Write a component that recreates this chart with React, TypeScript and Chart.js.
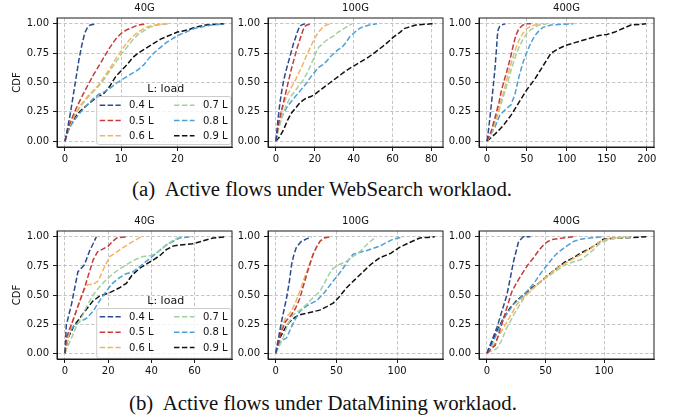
import React, { useEffect, useRef } from 'react';
import { Chart, registerables } from 'chart.js';

Chart.register(...registerables);

// ---------- DATA ----------
const LOADS = ['0.4 L', '0.5 L', '0.6 L', '0.7 L', '0.8 L', '0.9 L'];
const COLORS = ['#2a4b8d', '#c53a3a', '#f7b25f', '#a3d09f', '#4f9fd6', '#111111'];
const LEGEND_TITLE = 'L: load';
const PANEL_TITLES = ['40G', '100G', '400G'];
const Y_LABEL = 'CDF';
const Y_TICKS = [0, 0.25, 0.5, 0.75, 1.0];
const CAPTION_A = 'Active flows under WebSearch worklaod.';
const CAPTION_B = 'Active flows under DataMining worklaod.';

// WebSearch, 40G
const WS40_04 = [[0, 0], [0.5, 0.12], [1, 0.25], [1.5, 0.4], [2, 0.55], [2.5, 0.7], [3, 0.82], [3.5, 0.92], [4, 0.97], [4.5, 0.99], [5.5, 1.0]];
const WS40_05 = [[0, 0], [0.5, 0.1], [1, 0.17], [2, 0.28], [3, 0.38], [4, 0.47], [5, 0.56], [6, 0.64], [7, 0.72], [8, 0.8], [9, 0.87], [10, 0.92], [11, 0.95], [12, 0.97], [13, 0.99], [14.5, 1.0]];
const WS40_06 = [[0, 0], [0.5, 0.1], [1, 0.16], [2, 0.25], [3, 0.32], [4, 0.38], [5, 0.43], [6, 0.48], [7, 0.55], [8, 0.62], [9, 0.7], [10, 0.77], [11, 0.84], [12, 0.89], [13, 0.93], [14, 0.96], [15, 0.98], [16.5, 0.995], [18, 1.0]];
const WS40_07 = [[0, 0], [0.5, 0.09], [1, 0.15], [2, 0.24], [3, 0.31], [4, 0.37], [5, 0.42], [6, 0.47], [7, 0.53], [8, 0.6], [9, 0.67], [10, 0.74], [11, 0.8], [12, 0.86], [13, 0.91], [14, 0.94], [15, 0.97], [16.5, 0.99], [18.3, 1.0]];
const WS40_08 = [[0, 0], [0.5, 0.08], [1, 0.13], [2, 0.2], [3, 0.26], [4, 0.31], [5, 0.36], [6, 0.4], [7, 0.42], [8, 0.45], [9, 0.49], [10, 0.52], [11, 0.55], [12, 0.58], [13, 0.61], [14, 0.65], [15, 0.71], [16, 0.76], [17, 0.8], [18, 0.84], [19, 0.87], [20, 0.9], [21, 0.92], [22, 0.94], [23, 0.96], [24, 0.97], [25, 0.98], [26, 0.99], [28.3, 1.0]];
const WS40_09 = [[0, 0], [0.5, 0.08], [1, 0.14], [2, 0.22], [3, 0.27], [4, 0.31], [5, 0.35], [6, 0.38], [7, 0.41], [8, 0.47], [9, 0.55], [10, 0.6], [11, 0.65], [12, 0.71], [13, 0.75], [14, 0.78], [15, 0.81], [16, 0.84], [17, 0.87], [18, 0.89], [19, 0.91], [20, 0.93], [21, 0.94], [22, 0.95], [23, 0.97], [24, 0.98], [25, 0.99], [28.3, 1.0]];

// WebSearch, 100G
const WS100_04 = [[0, 0], [1, 0.18], [2, 0.32], [3, 0.43], [4, 0.52], [5, 0.59], [6, 0.65], [7, 0.71], [8, 0.77], [9, 0.83], [10, 0.88], [11, 0.93], [12, 0.97], [13, 0.99], [15, 1.0]];
const WS100_05 = [[0, 0], [1, 0.12], [2, 0.2], [3, 0.27], [4, 0.34], [5, 0.41], [6, 0.48], [7, 0.55], [8, 0.62], [9, 0.68], [10, 0.74], [11, 0.8], [12, 0.85], [13, 0.9], [14, 0.95], [15, 0.98], [16, 0.99], [18, 1.0]];
const WS100_06 = [[0, 0], [1, 0.1], [2, 0.18], [4, 0.32], [6, 0.4], [8, 0.46], [10, 0.52], [12, 0.59], [14, 0.66], [16, 0.74], [18, 0.81], [20, 0.88], [22, 0.93], [24, 0.97], [26, 0.99], [28, 1.0]];
const WS100_07 = [[0, 0], [1, 0.08], [2, 0.14], [4, 0.25], [6, 0.33], [8, 0.39], [10, 0.43], [12, 0.48], [14, 0.52], [16, 0.58], [18, 0.65], [19, 0.69], [20, 0.73], [21, 0.77], [22, 0.8], [24, 0.83], [26, 0.86], [28, 0.88], [30, 0.9], [32, 0.93], [34, 0.95], [36, 0.97], [38, 0.99], [39, 1.0]];
const WS100_08 = [[0, 0], [2, 0.18], [4, 0.24], [6, 0.3], [8, 0.34], [10, 0.38], [12, 0.42], [14, 0.46], [16, 0.5], [18, 0.55], [20, 0.59], [22, 0.63], [24, 0.65], [26, 0.68], [28, 0.72], [30, 0.75], [32, 0.78], [34, 0.8], [36, 0.84], [38, 0.89], [40, 0.92], [42, 0.95], [44, 0.97], [46, 0.98], [48, 0.99], [52, 1.0]];
const WS100_09 = [[0, 0], [2, 0.04], [4, 0.1], [6, 0.18], [8, 0.24], [10, 0.28], [12, 0.32], [14, 0.35], [16, 0.37], [18, 0.38], [20, 0.4], [24, 0.45], [28, 0.5], [32, 0.55], [36, 0.6], [40, 0.64], [44, 0.68], [48, 0.72], [52, 0.77], [56, 0.82], [60, 0.88], [64, 0.93], [66, 0.96], [68, 0.97], [72, 0.99], [80, 1.0], [82, 1.0]];

// WebSearch, 400G
const WS400_04 = [[0, 0], [2, 0.1], [4, 0.22], [6, 0.35], [8, 0.48], [10, 0.62], [12, 0.8], [13, 0.9], [14, 0.95], [16, 0.98], [18, 0.99], [23, 1.0]];
const WS400_05 = [[0, 0], [5, 0.08], [10, 0.2], [15, 0.33], [18, 0.43], [20, 0.48], [25, 0.6], [30, 0.73], [33, 0.82], [36, 0.9], [40, 0.96], [45, 0.99], [50, 1.0], [55, 1.0]];
const WS400_06 = [[0, 0], [5, 0.07], [10, 0.17], [15, 0.28], [20, 0.4], [25, 0.53], [30, 0.66], [35, 0.77], [40, 0.86], [45, 0.92], [50, 0.96], [55, 0.98], [60, 0.99], [68, 1.0]];
const WS400_07 = [[0, 0], [5, 0.06], [10, 0.15], [15, 0.26], [20, 0.37], [25, 0.48], [30, 0.6], [35, 0.71], [40, 0.8], [45, 0.87], [50, 0.92], [55, 0.95], [60, 0.97], [65, 0.99], [75, 1.0]];
const WS400_08 = [[0, 0], [5, 0.06], [10, 0.12], [13, 0.17], [16, 0.22], [20, 0.25], [25, 0.28], [30, 0.31], [35, 0.4], [40, 0.55], [45, 0.67], [50, 0.76], [55, 0.84], [60, 0.9], [65, 0.94], [70, 0.97], [80, 0.99], [90, 0.995], [108, 1.0]];
const WS400_09 = [[0, 0], [10, 0.06], [20, 0.13], [30, 0.22], [40, 0.33], [50, 0.44], [60, 0.53], [70, 0.64], [80, 0.75], [85, 0.77], [90, 0.79], [100, 0.82], [110, 0.84], [120, 0.86], [130, 0.88], [140, 0.9], [150, 0.91], [160, 0.93], [170, 0.96], [180, 0.99], [190, 0.995], [199, 1.0]];

// DataMining, 40G
const DM40_04 = [[0, 0], [0.6, 0.24], [3, 0.42], [6, 0.7], [9, 0.76], [11.4, 0.88], [13, 0.94], [14.5, 1.0]];
const DM40_05 = [[0, 0], [0.6, 0.13], [5.2, 0.36], [9, 0.56], [11, 0.68], [13, 0.8], [15, 0.87], [16, 0.88], [20, 0.92], [22, 0.96], [24, 0.99], [28.4, 1.0]];
const DM40_06 = [[0, 0], [1, 0.1], [3, 0.24], [6.8, 0.45], [9, 0.55], [10.6, 0.59], [13, 0.59], [15.3, 0.62], [18, 0.73], [20.7, 0.83], [24, 0.87], [27, 0.91], [31.5, 0.96], [35.3, 1.0]];
const DM40_07 = [[0, 0], [1, 0.05], [3, 0.13], [5, 0.22], [8.3, 0.33], [10, 0.4], [13, 0.5], [16, 0.57], [19, 0.63], [22, 0.68], [25, 0.72], [28.4, 0.76], [32, 0.8], [36, 0.83], [40, 0.84], [42, 0.86], [45, 0.9], [48.5, 0.95], [50, 0.97], [53, 1.0]];
const DM40_08 = [[0, 0], [1, 0.1], [2.2, 0.19], [4, 0.23], [6.8, 0.27], [10, 0.3], [13, 0.36], [16, 0.45], [19, 0.53], [22, 0.6], [25.3, 0.65], [28, 0.68], [31.5, 0.7], [35, 0.75], [39, 0.81], [43, 0.87], [46.9, 0.93], [50, 0.96], [53, 0.99], [59, 1.0]];
const DM40_09 = [[0, 0], [1.4, 0.13], [4, 0.23], [6.8, 0.3], [10, 0.38], [13, 0.45], [16, 0.49], [20.7, 0.52], [25, 0.56], [28.4, 0.6], [31, 0.67], [34.6, 0.73], [38, 0.77], [40.7, 0.8], [44, 0.84], [46.9, 0.89], [50, 0.92], [53, 0.93], [59, 0.94], [63, 0.96], [68.5, 0.99], [74, 1.0]];

// DataMining, 100G
const DM100_04 = [[0, 0], [4.7, 0.27], [8.8, 0.47], [11, 0.6], [13, 0.76], [15, 0.85], [17, 0.91], [21, 0.96], [25, 0.98], [29.4, 1.0]];
const DM100_05 = [[0, 0], [4.7, 0.19], [8, 0.27], [12.9, 0.33], [16, 0.38], [19.8, 0.47], [22, 0.55], [25.3, 0.67], [28, 0.76], [30.8, 0.85], [33.5, 0.91], [36.3, 0.96], [40, 0.99], [44.5, 1.0]];
const DM100_06 = [[0, 0], [4.7, 0.22], [8, 0.3], [12.9, 0.36], [16, 0.43], [19.8, 0.53], [23, 0.63], [26.6, 0.73], [30, 0.83], [33.5, 0.91], [37, 0.97], [41.8, 1.0]];
const DM100_07 = [[0, 0], [6, 0.13], [10, 0.25], [14.3, 0.33], [20, 0.37], [25.3, 0.42], [30, 0.47], [36.3, 0.53], [40, 0.6], [44, 0.68], [47.3, 0.73], [52, 0.76], [58.2, 0.79], [62, 0.82], [66.5, 0.85], [70, 0.88], [74.7, 0.93], [79, 0.97], [83, 1.0]];
const DM100_08 = [[0, 0], [3.3, 0.1], [8.8, 0.13], [14, 0.25], [19.8, 0.36], [26, 0.41], [33.5, 0.45], [40, 0.52], [47.3, 0.62], [52, 0.68], [55.5, 0.73], [60, 0.8], [63.7, 0.85], [70, 0.87], [74.7, 0.88], [80, 0.9], [85.7, 0.92], [91, 0.95], [96.7, 0.98], [105, 1.0]];
const DM100_09 = [[0, 0], [3.3, 0.13], [8, 0.22], [11.5, 0.27], [16, 0.31], [19.8, 0.33], [28, 0.35], [36.3, 0.37], [42, 0.4], [47.3, 0.43], [52, 0.48], [58.2, 0.56], [65, 0.63], [72, 0.7], [78, 0.76], [85.7, 0.82], [95, 0.86], [102, 0.91], [110, 0.95], [118.7, 0.99], [125, 0.995], [131, 1.0]];

// DataMining, 400G
const DM400_04 = [[0, 0], [8.5, 0.22], [17, 0.5], [20, 0.65], [22.7, 0.79], [25, 0.88], [27, 0.96], [31, 1.0], [37, 1.0]];
const DM400_05 = [[0, 0], [7.1, 0.07], [14.2, 0.3], [21.3, 0.53], [25, 0.6], [29.8, 0.68], [35, 0.76], [39.8, 0.82], [44, 0.88], [48.3, 0.93], [52, 0.96], [56.8, 0.98], [65, 0.99], [73.9, 1.0]];
const DM400_06 = [[0, 0], [5.7, 0.07], [14.2, 0.22], [20, 0.32], [25.6, 0.42], [31, 0.48], [36.9, 0.53], [44, 0.6], [51, 0.66], [60, 0.73], [68, 0.78], [75, 0.82], [82.4, 0.86], [90, 0.91], [96.6, 0.96], [102, 0.98], [108, 0.99], [119, 1.0]];
const DM400_07 = [[0, 0], [8.5, 0.04], [12, 0.1], [17, 0.22], [24, 0.35], [31.3, 0.47], [38, 0.55], [45.5, 0.61], [55, 0.68], [65.3, 0.75], [72, 0.78], [79.5, 0.8], [85, 0.84], [91, 0.89], [95, 0.93], [99.4, 0.96], [106, 0.98], [113.6, 0.99], [125, 1.0]];
const DM400_08 = [[0, 0], [2.8, 0.04], [11.4, 0.24], [17, 0.34], [22.7, 0.42], [28, 0.47], [34, 0.53], [40, 0.6], [45.5, 0.68], [50, 0.74], [54, 0.79], [58, 0.84], [62.5, 0.88], [68, 0.92], [73.9, 0.96], [80, 0.98], [88, 0.99], [99.4, 1.0]];
const DM400_09 = [[0, 0], [8.5, 0.19], [14, 0.3], [19.9, 0.39], [25, 0.45], [31.3, 0.5], [38, 0.56], [45.5, 0.61], [52, 0.67], [59.7, 0.73], [66, 0.78], [73.9, 0.82], [80, 0.86], [88, 0.9], [94, 0.94], [99.4, 0.98], [105, 0.985], [116.5, 0.99], [125, 0.995], [136, 1.0]];

// x tick labels per panel
const WS40_TICKS = [0, 10, 20];
const WS100_TICKS = [0, 20, 40, 60, 80];
const WS400_TICKS = [0, 50, 100, 150, 200];
const DM40_TICKS = [0, 20, 40, 60];
const DM100_TICKS = [0, 50, 100];
const DM400_TICKS = [0, 50, 100];

// x ranges per panel
const WS40_RANGE = [-1.42, 29.7];
const WS100_RANGE = [-4.1, 86.0];
const WS400_RANGE = [-10, 209];
const DM40_RANGE = [-3.7, 77.3];
const DM100_RANGE = [-6.4, 137.8];
const DM400_RANGE = [-6.8, 142.6];
const Y_RANGE = [-0.05, 1.05];

// ---------- LAYOUT ----------
const FONT = '"DejaVu Sans", sans-serif';
const COL_X = [[57, 232], [268, 443], [479, 654]];
const ROW_Y = [[18, 147], [231, 359]];
const Y_AXIS_W = 46;
const X_AXIS_H = 22;
const TOP_PAD = 18;
const RIGHT_PAD = 10;
const LEGEND_POS = [
  { box: [96.7, 96.5, 231.3, 144.5], title: [165.7, 88.7], rows: [105.3, 120.5, 135.8] },
  { box: [96.7, 308.5, 231.3, 358.3], title: [165.7, 300.7], rows: [316.8, 332.2, 347.6] },
];
const LEG_HANDLE = [[99.7, 120.7], [174, 194.5]];
const LEG_TEXT = [129, 203];

const PANELS = [
  { row: 0, col: 0, series: [WS40_04, WS40_05, WS40_06, WS40_07, WS40_08, WS40_09], range: WS40_RANGE, ticks: WS40_TICKS },
  { row: 0, col: 1, series: [WS100_04, WS100_05, WS100_06, WS100_07, WS100_08, WS100_09], range: WS100_RANGE, ticks: WS100_TICKS },
  { row: 0, col: 2, series: [WS400_04, WS400_05, WS400_06, WS400_07, WS400_08, WS400_09], range: WS400_RANGE, ticks: WS400_TICKS },
  { row: 1, col: 0, series: [DM40_04, DM40_05, DM40_06, DM40_07, DM40_08, DM40_09], range: DM40_RANGE, ticks: DM40_TICKS },
  { row: 1, col: 1, series: [DM100_04, DM100_05, DM100_06, DM100_07, DM100_08, DM100_09], range: DM100_RANGE, ticks: DM100_TICKS },
  { row: 1, col: 2, series: [DM400_04, DM400_05, DM400_06, DM400_07, DM400_08, DM400_09], range: DM400_RANGE, ticks: DM400_TICKS },
];

const LINE_DASH = [5.5, 2.4];
const TEXT_COLOR = '#111111';

function Panel({ p }: { p: any }) {
  const ref = useRef<HTMLCanvasElement>(null);
  const [bx0, bx1] = COL_X[p.col];
  const [by0, by1] = ROW_Y[p.row];
  const left = bx0 - Y_AXIS_W;
  const top = by0 - TOP_PAD;
  const width = bx1 - bx0 + Y_AXIS_W + RIGHT_PAD;
  const height = by1 - by0 + TOP_PAD + X_AXIS_H;

  useEffect(() => {
    const canvas = ref.current;
    if (!canvas) return;
    const title = PANEL_TITLES[p.col];
    const legend = p.col === 0 ? LEGEND_POS[p.row] : null;

    const framePlugin = {
      id: 'frameAndText',
      afterDatasetsDraw(chart: any) {
        const { ctx, chartArea } = chart;
        ctx.save();
        if (legend) {
          const [x0, y0, x1, y1] = legend.box;
          const rx = x0 - left, ry = y0 - top, rw = x1 - x0, rh = y1 - y0;
          ctx.beginPath();
          const r = 2.5;
          ctx.moveTo(rx + r, ry);
          ctx.lineTo(rx + rw - r, ry);
          ctx.quadraticCurveTo(rx + rw, ry, rx + rw, ry + r);
          ctx.lineTo(rx + rw, ry + rh - r);
          ctx.quadraticCurveTo(rx + rw, ry + rh, rx + rw - r, ry + rh);
          ctx.lineTo(rx + r, ry + rh);
          ctx.quadraticCurveTo(rx, ry + rh, rx, ry + rh - r);
          ctx.lineTo(rx, ry + r);
          ctx.quadraticCurveTo(rx, ry, rx + r, ry);
          ctx.closePath();
          ctx.fillStyle = 'rgba(255,255,255,0.8)';
          ctx.fill();
          ctx.strokeStyle = '#cccccc';
          ctx.lineWidth = 1;
          ctx.stroke();
          ctx.fillStyle = TEXT_COLOR;
          ctx.textBaseline = 'middle';
          ctx.textAlign = 'center';
          ctx.font = `11px ${FONT}`;
          ctx.fillText(LEGEND_TITLE, legend.title[0] - left, legend.title[1] - top);
          ctx.font = `10px ${FONT}`;
          ctx.textAlign = 'left';
          LOADS.forEach((lab, i) => {
            const c = i < 3 ? 0 : 1;
            const yy = legend.rows[i % 3] - top;
            ctx.beginPath();
            ctx.setLineDash(LINE_DASH);
            ctx.strokeStyle = COLORS[i];
            ctx.lineWidth = 1.5;
            ctx.moveTo(LEG_HANDLE[c][0] - left, yy);
            ctx.lineTo(LEG_HANDLE[c][1] - left, yy);
            ctx.stroke();
            ctx.setLineDash([]);
            ctx.fillStyle = TEXT_COLOR;
            ctx.fillText(lab, LEG_TEXT[c] - left, yy + 0.5);
          });
        }
        ctx.setLineDash([]);
        ctx.strokeStyle = '#1a1a1a';
        ctx.lineWidth = 1;
        ctx.strokeRect(chartArea.left, chartArea.top, chartArea.right - chartArea.left, chartArea.bottom - chartArea.top);
        ctx.fillStyle = TEXT_COLOR;
        ctx.font = `10px ${FONT}`;
        ctx.textAlign = 'center';
        ctx.textBaseline = 'middle';
        ctx.fillText(title, (chartArea.left + chartArea.right) / 2, chartArea.top - 9.5);
        ctx.restore();
      },
    };

    const tickFont = { family: FONT, size: 10 };
    const chart = new Chart(canvas, {
      type: 'line',
      data: {
        datasets: p.series.map((pts: number[][], i: number) => ({
          label: LOADS[i],
          data: pts.map(([x, y]) => ({ x, y })),
          borderColor: COLORS[i],
          backgroundColor: COLORS[i],
          borderWidth: 1.5,
          borderDash: LINE_DASH,
          pointRadius: 0,
          fill: false,
          tension: 0,
        })),
      },
      options: {
        animation: false,
        responsive: false,
        events: [],
        layout: { padding: { left: 0, top: TOP_PAD, right: RIGHT_PAD, bottom: 0 }, autoPadding: false },
        plugins: { legend: { display: false }, tooltip: { enabled: false }, title: { display: false } },
        scales: {
          x: {
            type: 'linear',
            min: p.range[0],
            max: p.range[1],
            afterBuildTicks: (s: any) => { s.ticks = p.ticks.map((v: number) => ({ value: v })); },
            afterFit: (s: any) => { s.height = X_AXIS_H; },
            ticks: { color: TEXT_COLOR, font: tickFont, padding: 2, maxRotation: 0, autoSkip: false, callback: (v: any) => String(v) },
            grid: { color: '#b8b8b8', lineWidth: 0.8, tickLength: 4, tickColor: '#1a1a1a', tickWidth: 1, tickBorderDash: [] },
            border: { display: true, color: '#1a1a1a', width: 1, dash: [3.5, 2] },
          },
          y: {
            type: 'linear',
            min: Y_RANGE[0],
            max: Y_RANGE[1],
            afterBuildTicks: (s: any) => { s.ticks = Y_TICKS.map((v) => ({ value: v })); },
            afterFit: (s: any) => { s.width = Y_AXIS_W; },
            ticks: { color: TEXT_COLOR, font: tickFont, padding: 4, autoSkip: false, callback: (v: any) => Number(v).toFixed(2) },
            grid: { color: '#b8b8b8', lineWidth: 0.8, tickLength: 4, tickColor: '#1a1a1a', tickWidth: 1, tickBorderDash: [] },
            border: { display: true, color: '#1a1a1a', width: 1, dash: [3.5, 2] },
            title: { display: p.col === 0, text: Y_LABEL, color: TEXT_COLOR, font: tickFont, padding: 0 },
          },
        },
      },
      plugins: [framePlugin],
    } as any);
    return () => chart.destroy();
  }, []);

  return (
    <canvas
      ref={ref}
      width={width}
      height={height}
      style={{ position: 'absolute', left, top, width, height }}
    />
  );
}

export default function App() {
  const capStyle: any = {
    position: 'absolute',
    font: '20.8px "Liberation Serif", "Times New Roman", serif',
    lineHeight: '20px',
    whiteSpace: 'nowrap',
    color: '#111',
  };
  return (
    <div style={{ position: 'absolute', left: 0, top: 0, width: 676, height: 419, background: '#fff', overflow: 'hidden' }}>
      {PANELS.map((p, i) => <Panel key={i} p={p} />)}
      <div style={{ ...capStyle, left: 132, top: 179 }}>
        <span style={{ marginRight: 5.5 }}>(a)</span> {CAPTION_A}
      </div>
      <div style={{ ...capStyle, left: 129, top: 392.5 }}>
        <span style={{ marginRight: 5.5 }}>(b)</span> {CAPTION_B}
      </div>
    </div>
  );
}
